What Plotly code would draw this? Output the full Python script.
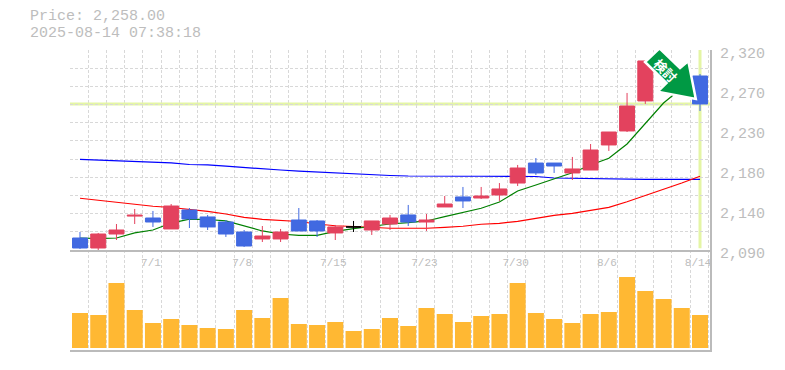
import plotly.graph_objects as go

W, H = 785, 370

# --- data ---
dates = ["7/1", "7/8", "7/15", "7/23", "7/30", "8/6", "8/14"]
date_idx = [4, 9, 14, 19, 24, 29, 34]
price_labels = ["2,320", "2,270", "2,230", "2,180", "2,140", "2,090"]
price_label_vals = [2320, 2274, 2228, 2182, 2136, 2090]
current_price = 2258.0

opens = [2103.8, 2092.3, 2108.4, 2129.0, 2126.8, 2114.2, 2136.0, 2128.0, 2122.2, 2110.7, 2102.7, 2102.7,
         2124.5, 2123.4, 2109.6, 2116.5, 2113.0, 2119.9, 2130.3, 2122.2, 2139.5, 2151.0, 2149.8, 2153.3,
         2167.0, 2190.0, 2190.0, 2178.6, 2182.0, 2210.8, 2226.9, 2261.4, 2306.2, 2294.7, 2290.1]
highs = [2110.7, 2109.6, 2119.9, 2137.2, 2134.9, 2142.9, 2138.3, 2130.3, 2124.5, 2113.0, 2117.6, 2114.2,
         2138.3, 2124.5, 2118.8, 2123.4, 2123.4, 2130.3, 2141.8, 2131.4, 2152.1, 2162.5, 2162.5, 2167.0,
         2187.8, 2195.8, 2190.0, 2197.0, 2211.9, 2225.7, 2270.6, 2307.4, 2306.2, 2294.7, 2292.4]
lows = [2091.2, 2090.0, 2101.5, 2119.9, 2116.5, 2114.2, 2115.3, 2113.0, 2105.0, 2093.5, 2099.2, 2099.2,
        2111.9, 2105.0, 2101.5, 2110.7, 2107.3, 2113.0, 2117.6, 2111.9, 2139.5, 2138.3, 2148.7, 2146.4,
        2163.6, 2176.3, 2178.6, 2170.5, 2182.0, 2203.9, 2225.7, 2258.0, 2294.7, 2271.7, 2249.9]
closes = [2092.3, 2108.4, 2113.0, 2130.0, 2122.2, 2140.6, 2125.7, 2116.5, 2108.4, 2094.6, 2106.1, 2110.7,
          2111.9, 2111.9, 2116.5, 2116.5, 2123.4, 2126.8, 2122.2, 2124.5, 2142.9, 2146.4, 2152.1, 2160.2,
          2184.3, 2178.6, 2186.6, 2183.2, 2205.0, 2225.7, 2255.6, 2307.4, 2294.7, 2271.7, 2258.0]
doji_idx = [15]

ma_long = [2194.3, 2193.5, 2192.4, 2191.4, 2190.9, 2190.1, 2188.3, 2187.8, 2186.4, 2185.2, 2184.0, 2182.0,
           2180.6, 2179.5, 2178.3, 2177.2, 2176.0, 2175.7, 2175.1, 2174.8, 2174.8, 2174.8, 2174.8, 2174.8,
           2174.8, 2174.5, 2172.8, 2172.5, 2171.7, 2171.3, 2171.3, 2171.3, 2171.3, 2171.3, 2171.3]
ma_mid = [2149.5, 2147.2, 2144.9, 2142.6, 2140.3, 2138.9, 2136.8, 2134.5, 2131.4, 2127.6, 2125.3, 2124.2,
          2122.8, 2119.9, 2117.9, 2117.0, 2115.9, 2115.0, 2115.0, 2115.0, 2116.1, 2117.3, 2119.6, 2120.7,
          2123.0, 2126.5, 2129.9, 2132.2, 2135.7, 2139.1, 2145.5, 2152.4, 2159.8, 2167.0, 2174.8]
ma_short = [2103.8, 2103.0, 2103.8, 2109.6, 2113.0, 2121.0, 2125.4, 2125.1, 2123.4, 2117.6, 2111.9, 2108.4,
            2106.9, 2106.9, 2111.5, 2114.5, 2117.3, 2119.9, 2121.4, 2123.4, 2128.3, 2132.9, 2138.0, 2145.2,
            2157.9, 2164.8, 2172.0, 2178.9, 2187.8, 2195.5, 2211.9, 2236.0, 2259.0, 2276.3, 2287.8]
volumes = [35, 33, 65, 38, 25, 29, 23, 20, 19, 38, 30, 50, 24, 23, 26, 17, 19, 30,
           22, 40, 34, 26, 32, 34, 65, 35, 29, 25, 34, 36, 71, 57, 49, 40, 33]

idx = list(range(len(closes)))

# --- style ---
GREY = "#bbbbbb"
TEXT = "#bdbdbd"
GRID = "#d8d8d8"
RED = "#e3425e"
BLUE = "#4169e1"
YELLOW = "#e4f5a5"
GREEN = "#009944"
FONT = "Liberation Mono, DejaVu Sans Mono, monospace"
DASH = "3px,2px"
XR = [-0.548, 34.548]


def ydom(top, bottom):
    return [(H - bottom) / H, (H - top) / H]


def px(x, y):
    return f"{x / W:.5f},{1 - y / H:.5f}"


xdom = [70 / W, 710 / W]
regular = [i for i in idx if i not in doji_idx]
fig = go.Figure()

# backdrop subplot for the vertical grid
fig.add_trace(go.Scatter(x=[0], y=[0], xaxis="x", yaxis="y", mode="none", showlegend=False, hoverinfo="skip"))
# moving averages (under the candles)
for series, colour in ((ma_long, "#0000ff"), (ma_mid, "#ff0000"), (ma_short, "#008000")):
    fig.add_trace(go.Scatter(x=idx, y=series, xaxis="x2", yaxis="y2", mode="lines",
                             line=dict(color=colour, width=1.2), showlegend=False, hoverinfo="skip"))
# candles
fig.add_trace(go.Candlestick(
    x=regular,
    open=[opens[i] for i in regular], high=[highs[i] for i in regular],
    low=[lows[i] for i in regular], close=[closes[i] for i in regular],
    xaxis="x3", yaxis="y3", whiskerwidth=0, showlegend=False, hoverinfo="skip",
    increasing=dict(line=dict(color=RED, width=1), fillcolor=RED),
    decreasing=dict(line=dict(color=BLUE, width=1), fillcolor=BLUE)))
fig.add_trace(go.Candlestick(
    x=doji_idx,
    open=[opens[i] for i in doji_idx], high=[highs[i] for i in doji_idx],
    low=[lows[i] for i in doji_idx], close=[closes[i] for i in doji_idx],
    xaxis="x3", yaxis="y3", whiskerwidth=0, showlegend=False, hoverinfo="skip",
    increasing=dict(line=dict(color="#000000", width=1), fillcolor="#000000"),
    decreasing=dict(line=dict(color="#000000", width=1), fillcolor="#000000")))
# volume
fig.add_trace(go.Bar(x=idx, y=volumes, xaxis="x4", yaxis="y4", marker=dict(color="#ffb833", line_width=0),
                     showlegend=False, hoverinfo="skip"))
# price labels axis, shifted a few pixels below the plot's scale
fig.add_trace(go.Scatter(x=[0], y=[2200], xaxis="x2", yaxis="y5", mode="none", showlegend=False, hoverinfo="skip"))

hidden_x = dict(domain=xdom, range=XR, showgrid=False, showticklabels=False, ticks="", zeroline=False,
                showline=False, rangeslider=dict(visible=False))
hidden_y = dict(showgrid=False, showticklabels=False, ticks="", zeroline=False, showline=False)

fig.update_layout(
    template="none",
    width=W, height=H, autosize=False,
    margin=dict(l=0, r=0, t=0, b=0, pad=0),
    paper_bgcolor="white", plot_bgcolor="rgba(0,0,0,0)",
    showlegend=False, bargap=0.123, boxgap=0.18, boxgroupgap=0, boxmode="overlay",
    font=dict(family=FONT, color=TEXT),
    xaxis=dict(domain=xdom, range=XR, anchor="y", tick0=-0.548, dtick=1, showgrid=True,
               gridcolor=GRID, griddash=DASH, gridwidth=1, showticklabels=False, ticks="", zeroline=False,
               showline=True, linecolor=GREY, linewidth=2),
    yaxis=dict(domain=ydom(50, 350), range=[0, 1], anchor="x", side="right", showgrid=False,
               showticklabels=False, ticks="", zeroline=False, showline=True, linecolor=GREY, linewidth=2),
    xaxis2=dict(domain=xdom, range=XR, anchor="y2", tickmode="array", tickvals=date_idx, ticktext=dates,
                tickfont=dict(size=11, color=TEXT, family=FONT), ticks="", showgrid=False, zeroline=False,
                showline=True, linecolor=GREY, linewidth=2, ticklabelshift=-2, ticklabelstandoff=1),
    yaxis2=dict(domain=ydom(50, 250), range=[2090, 2320], anchor="x2", tick0=2090, dtick=230 / 11, showgrid=True,
                gridcolor=GRID, griddash=DASH, gridwidth=1, showticklabels=False, ticks="", zeroline=False),
    xaxis3=dict(anchor="y3", **hidden_x),
    yaxis3=dict(domain=ydom(50, 250), range=[2090, 2320], anchor="x3", **hidden_y),
    xaxis4=dict(anchor="y4", **hidden_x),
    yaxis4=dict(domain=ydom(262, 350), range=[-2, 86], anchor="x4", **hidden_y),
    yaxis5=dict(domain=ydom(53, 253), range=[2090, 2320], anchor="x2", side="right", tickmode="array",
                tickvals=price_label_vals, ticktext=price_labels, showgrid=False, zeroline=False, ticks="",
                showline=False, tickfont=dict(size=15, color=TEXT, family=FONT), ticklabelstandoff=9),
    shapes=[
        dict(type="line", xref="x2", yref="y2", x0=XR[0], x1=XR[1], y0=current_price, y1=current_price,
             line=dict(color=YELLOW, width=3), layer="below"),
        dict(type="line", xref="x2", yref="y2", x0=34, x1=34, y0=2092, y1=2320,
             line=dict(color=YELLOW, width=3), layer="below"),
        dict(type="path", xref="paper", yref="paper", layer="above",
             path="M" + " L".join(px(a, b) for a, b in
                                  [(659.5, 48.3), (680, 68), (688.3, 61), (695.8, 99), (657.7, 91.7), (666.5, 83), (645, 62)]) + " Z",
             fillcolor=GREEN, line=dict(color="white", width=2.5)),
    ],
    annotations=[
        dict(xref="paper", yref="paper", x=28 / W, y=1 - 16.5 / H, text="Price: 2,258.00", showarrow=False,
             xanchor="left", yanchor="middle", font=dict(size=15, color=TEXT, family=FONT)),
        dict(xref="paper", yref="paper", x=28 / W, y=1 - 34 / H, text="2025-08-14 07:38:18", showarrow=False,
             xanchor="left", yanchor="middle", font=dict(size=15, color=TEXT, family=FONT)),
        dict(xref="paper", yref="paper", x=666 / W, y=1 - 70 / H, text="<b>検討</b>", showarrow=False, textangle=45,
             xanchor="center", yanchor="middle", font=dict(size=13, color="white", family="Noto Sans CJK JP")),
    ],
)

fig.write_html("out.html", config=dict(displayModeBar=False),
               post_script="document.body.style.margin='0';")
